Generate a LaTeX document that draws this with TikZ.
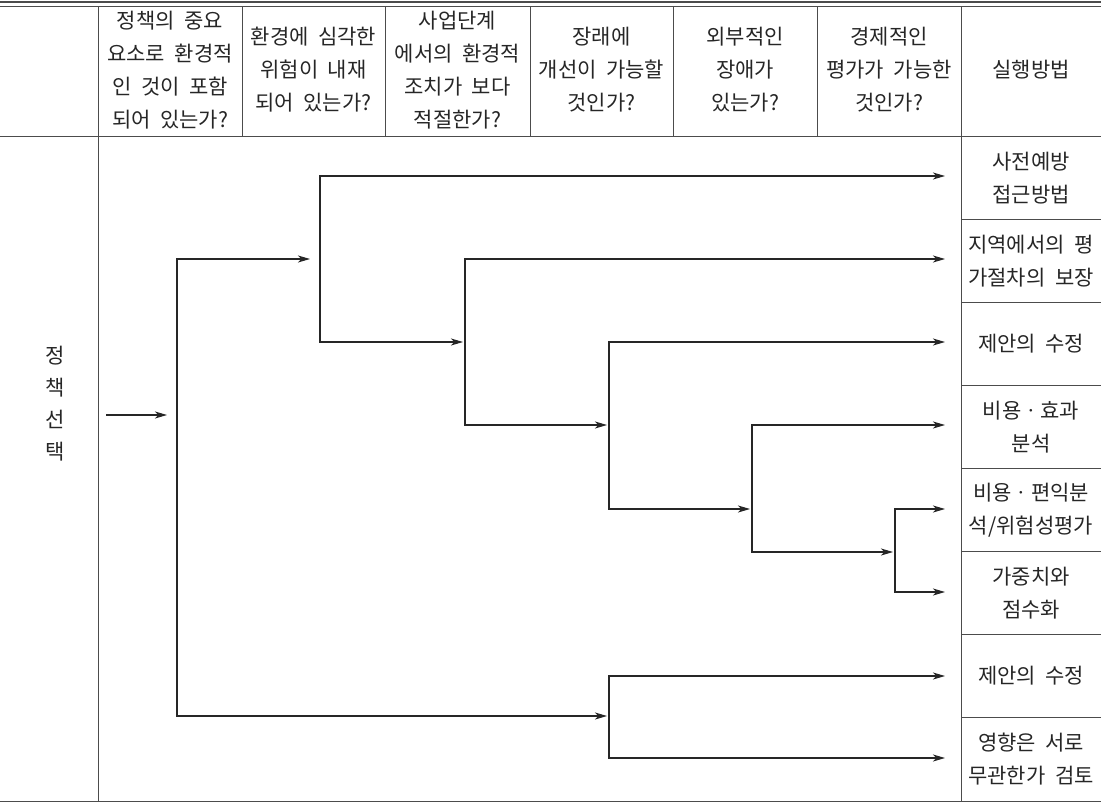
\documentclass[tikz,border=0pt]{standalone}
\usepackage{fontspec}
\newfontfamily\kr[WordSpace=2]{Noto Sans CJK KR}
\usetikzlibrary{arrows.meta}
\tikzset{
  txt/.style={font=\kr\fontsize{21}{33}\selectfont, align=center, inner sep=0pt, text=black!85},
  grid/.style={draw=black!70, line width=1pt},
  arr/.style={draw=black!85, line width=1.1pt, -{Stealth[length=12pt,width=7pt,inset=3.5pt]}},
  arrb/.style={draw=black!85, line width=1.1pt, {Stealth[length=12pt,width=7pt,inset=3.5pt]}-{Stealth[length=12pt,width=7pt,inset=3.5pt]}}
}
\begin{document}
\begin{tikzpicture}[x=1pt,y=-1pt]
\useasboundingbox (0,0) rectangle (1101,803);
% table frame
\draw[grid, line width=1.4pt] (0,2) -- (1101,2);
\draw[grid] (0,6.5) -- (1101,6.5);
\draw[grid] (0,136) -- (1101,136);
\draw[grid] (0,801) -- (1101,801);
\foreach \x in {242,385,530,673,817} \draw[grid] (\x,6.5) -- (\x,136);
\draw[grid] (98,6.5) -- (98,801);
\draw[grid] (961,6.5) -- (961,801);
\foreach \y in {219.1,302.3,385.4,468.5,551.6,634.8,717.9} \draw[grid] (961,\y) -- (1101,\y);
% header texts
\node[txt] (h1) at (170,70) {정책의 중요\\요소로 환경적\\인 것이 포함\\되어 있는가?};
\node[txt] (h2) at (313.5,70) {환경에 심각한\\위험이 내재\\되어 있는가?};
\node[txt] (h3) at (457.5,70) {사업단계\\에서의 환경적\\조치가 보다\\적절한가?};
\node[txt] (h4) at (601.5,70) {장래에\\개선이 가능할\\것인가?};
\node[txt] (h5) at (745,70) {외부적인\\장애가\\있는가?};
\node[txt] (h6) at (889,70) {경제적인\\평가가 가능한\\것인가?};
\node[txt] (h7) at (1031,70) {실행방법};
% left label
\node[txt, font=\kr\fontsize{21}{32}\selectfont] (left) at (55,404) {정\\책\\선\\택};
% right column cells
\node[txt] (r1) at (1031,178) {사전예방\\접근방법};
\node[txt] (r2) at (1031,261) {지역에서의 평\\가절차의 보장};
\node[txt] (r3) at (1031,344) {제안의 수정};
\node[txt] (r4) at (1031,427) {비용ㆍ효과\\분석};
\node[txt] (r5) at (1031,510) {비용ㆍ편익분\\석/위험성평가};
\node[txt] (r6) at (1031,593) {가중치와\\점수화};
\node[txt] (r7) at (1031,676) {제안의 수정};
\node[txt] (r8) at (1031,759) {영향은 서로\\무관한가 검토};
% tips at right column
\coordinate (t1) at (945,176);
\coordinate (t2) at (945,259);
\coordinate (t3) at (945,342);
\coordinate (t4) at (945,425);
\coordinate (t5) at (945,509);
\coordinate (t6) at (945,592);
\coordinate (t7) at (945,676);
\coordinate (t8) at (945,758);
% entry
\coordinate (s0) at (106,415);
\coordinate (s1) at (167,415);
\draw[arr] (s0) -- (s1);
% main bracket
\coordinate (a1) at (310,259);
\coordinate (a2) at (607,716);
\draw[arrb] (a1) -| (177,716) -- (a2);
% bracket 2
\coordinate (b2) at (463,342);
\draw[arrb] (t1) -| (320,342) -- (b2);
% bracket 3
\coordinate (c2) at (607,425);
\draw[arrb] (t2) -| (465,425) -- (c2);
% bracket 4
\coordinate (d2) at (750,509);
\draw[arrb] (t3) -| (609,509) -- (d2);
% bracket 5
\coordinate (e2) at (893,552);
\draw[arrb] (t4) -| (752,552) -- (e2);
% bracket 6
\draw[arrb] (t5) -| (895,592) -- (t6);
% bracket 7
\draw[arrb] (t7) -| (609,758) -- (t8);
\end{tikzpicture}
\end{document}
